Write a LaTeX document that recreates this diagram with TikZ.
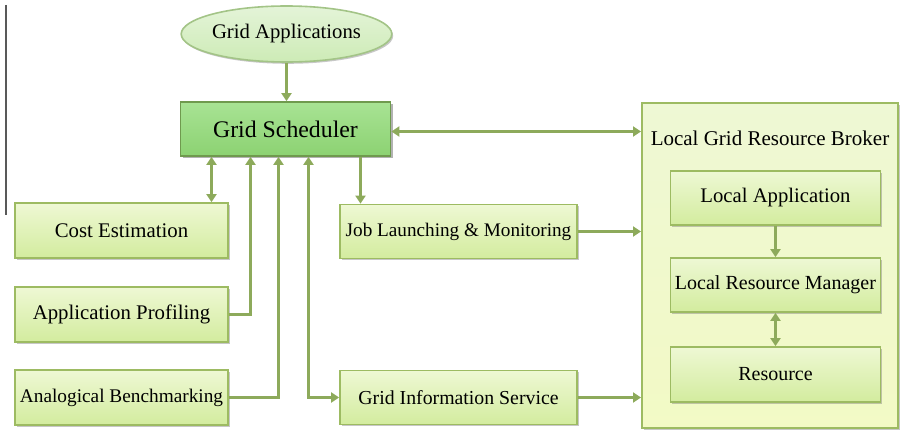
\documentclass[tikz,border=0pt]{standalone}
\usepackage{fontspec}
\setmainfont{Liberation Serif}
\usetikzlibrary{arrows.meta,shadows,shapes.geometric}

\definecolor{linkgreen}{HTML}{8DAA5B}
\definecolor{boxborder}{HTML}{9DBB62}
\definecolor{boxtop}{HTML}{EEF8D4}
\definecolor{boxbottom}{HTML}{D3EC9E}
\definecolor{schedtop}{HTML}{A8E394}
\definecolor{schedbottom}{HTML}{8CD272}
\definecolor{schedborder}{HTML}{6F9A4E}
\definecolor{elltop}{HTML}{E4F4D8}
\definecolor{ellbottom}{HTML}{CDEBB6}
\definecolor{ellborder}{HTML}{A3C487}

\tikzset{
  fsize/.style={font=\fontsize{#1}{#1}\selectfont},
  basebox/.style={rectangle, draw=boxborder, line width=1.8pt,
    top color=boxtop, bottom color=boxbottom, inner sep=0pt,
    drop shadow={shadow xshift=1.8pt, shadow yshift=-1.8pt, opacity=0.4, fill=black!55}},
  sidebox/.style={basebox, minimum width=213pt, minimum height=55pt, fsize=20.8},
  midbox/.style={basebox, minimum width=237pt, minimum height=54pt, fsize=19.2},
  innerbox/.style={basebox, minimum width=210pt, minimum height=54pt, fsize=20},
  brokerbox/.style={rectangle, draw=boxborder, line width=2pt,
    top color=boxtop, bottom color=boxbottom!70!yellow!40!white, inner sep=0pt,
    minimum width=256pt, minimum height=325pt,
    drop shadow={shadow xshift=2pt, shadow yshift=-2pt, opacity=0.4, fill=black!55}},
  schedbox/.style={rectangle, draw=schedborder, line width=1.8pt,
    top color=schedtop, bottom color=schedbottom, inner sep=0pt,
    minimum width=210pt, minimum height=54pt, fsize=23.8,
    drop shadow={shadow xshift=2pt, shadow yshift=-2pt, opacity=0.5, fill=black!60}},
  appell/.style={ellipse, draw=ellborder, line width=1.6pt,
    top color=elltop, bottom color=ellbottom, inner sep=0pt,
    minimum width=208pt, minimum height=56pt, fsize=20.7,
    drop shadow={shadow xshift=1.4pt, shadow yshift=-1.8pt, opacity=0.4, fill=black!55}},
  conn/.style={draw=linkgreen, line width=3pt,
    -{Triangle[length=8pt, width=10pt]}},
  conn2/.style={draw=linkgreen, line width=3pt,
    {Triangle[length=8pt, width=10pt]}-{Triangle[length=8pt, width=10pt]}},
}

\begin{document}
\begin{tikzpicture}[x=1pt, y=-1pt]
  \useasboundingbox (0,0) rectangle (900,433);

  % thin rule at the left margin
  \draw[line width=1.3pt, black!65] (6,5) -- (6,215);

  % top of the hierarchy
  \node[appell] (ga) at (286.5,34) {Grid Applications};
  \node[schedbox] (gs) at (285.5,129) {Grid Scheduler};

  % left column
  \node[sidebox] (ce) at (121.5,230.5) {Cost Estimation};
  \node[sidebox] (ap) at (121.5,314.5) {Application Profiling};
  \node[sidebox, fsize=19.3] (ab) at (121.5,397.5) {Analogical Benchmarking};

  % middle column
  \node[midbox] (jl) at (458.5,231.5) {Job Launching \& Monitoring};
  \node[midbox, fsize=19.8] (gis) at (458.5,397.5) {Grid Information Service};

  % local broker with its inner components
  \node[brokerbox] (lb) at (770,265.5) {};
  \node[fsize=21, inner sep=0pt] (lbt) at (770,138) {Local Grid Resource Broker};
  \node[innerbox, fsize=20.7] (la) at (775.5,198) {Local Application};
  \node[innerbox] (lrm) at (775.5,285) {Local Resource Manager};
  \node[innerbox, minimum height=55pt] (res) at (775.5,374.5) {Resource};

  % connectors
  \draw[conn] (ga.south) -- (ga.south |- gs.north);
  \draw[conn2] ([xshift=-74pt]gs.south) -- ([xshift=-74pt]gs.south |- ce.north);
  \draw[conn] (ap.east) -| ([xshift=-35pt]gs.south);
  \draw[conn] (ab.east) -| ([xshift=-7pt]gs.south);
  \draw[conn2] ([xshift=23pt]gs.south) |- (gis.west);
  \draw[conn] ([xshift=75pt]gs.south) -- ([xshift=75pt]gs.south |- jl.north);
  \draw[conn2] ([yshift=-2.5pt]gs.east) -- ([yshift=-2.5pt]gs.east -| lb.west);
  \draw[conn] (jl.east) -- (jl.east -| lb.west);
  \draw[conn] (gis.east) -- (gis.east -| lb.west);
  \draw[conn] (la.south) -- (lrm.north);
  \draw[conn2] (lrm.south) -- (res.north);
\end{tikzpicture}
\end{document}
